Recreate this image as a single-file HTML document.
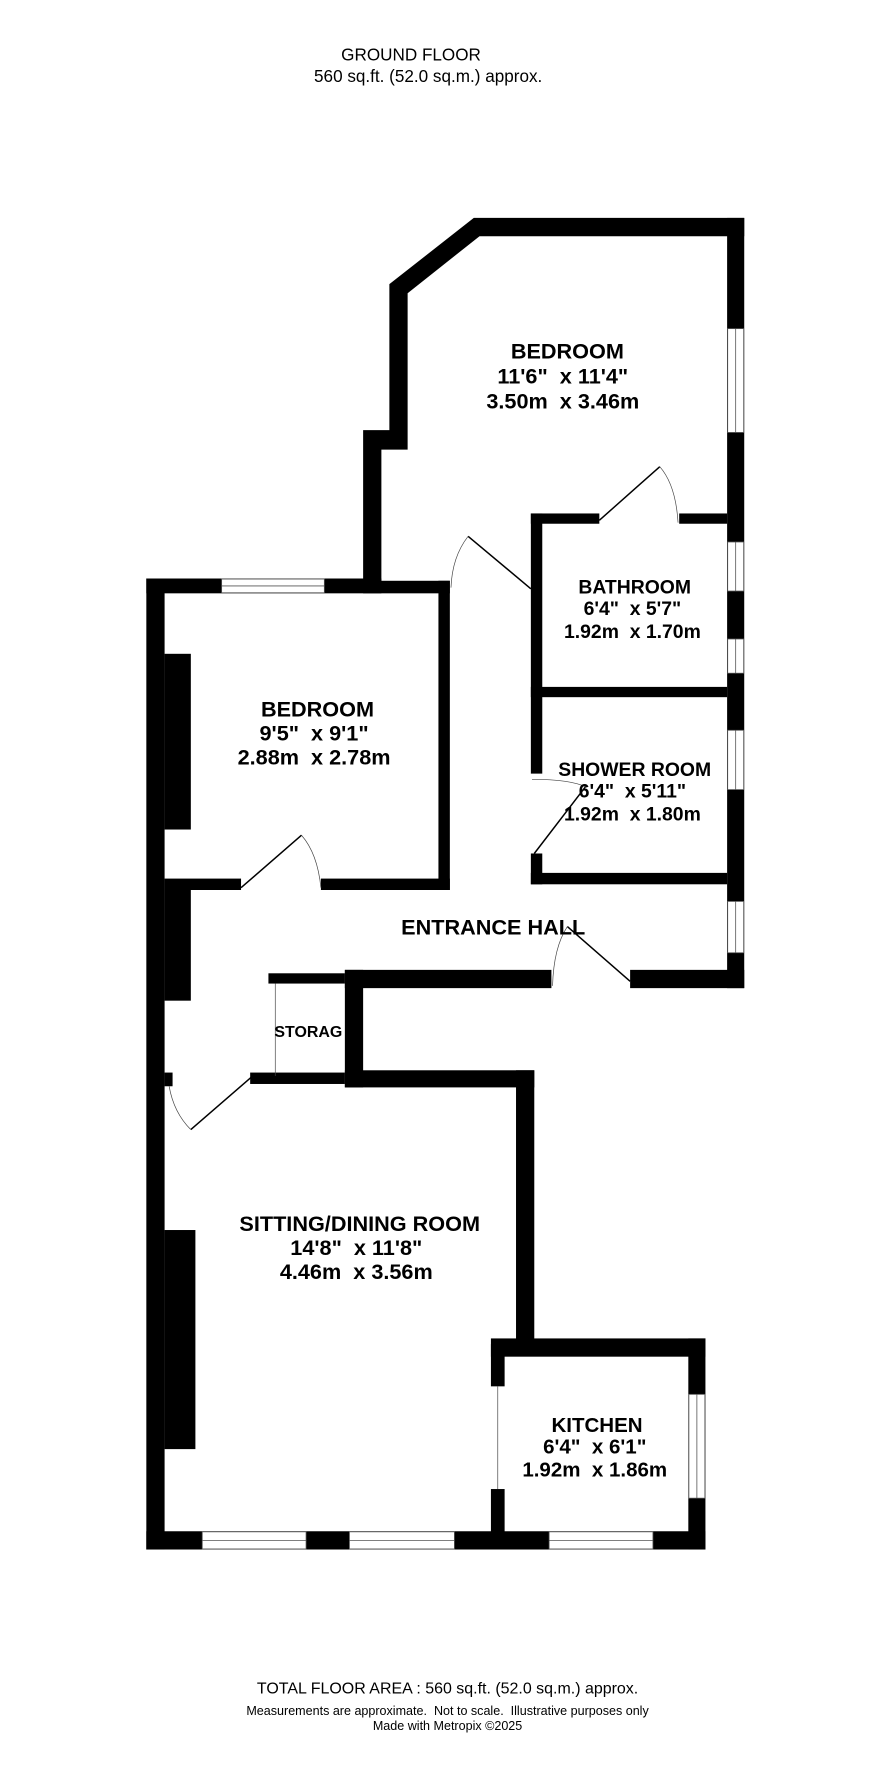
<!DOCTYPE html>
<html><head><meta charset="utf-8"><style>
html,body{margin:0;padding:0;background:#fff;}
svg{display:block;}
text{font-family:"Liberation Sans",Arial,sans-serif;fill:#000;white-space:pre;}
.b{font-weight:bold;}
</style></head><body>
<svg width="886" height="1780" viewBox="0 0 776 1560" xmlns="http://www.w3.org/2000/svg" xml:space="preserve">
<rect width="776" height="1560" fill="#fff"/>
<text x="360" y="53" font-size="15" text-anchor="middle">GROUND FLOOR</text>
<text x="375" y="72" font-size="15" text-anchor="middle">560 sq.ft. (52.0 sq.m.) approx.</text>

<g fill="#000">
<polygon points="415,191 652,191 652,207 420,207 357,257 357,394 334,394 334,515 318,515 318,377 341,377 341,249"/>
<rect x="637" y="191" width="15" height="675"/>
<rect x="465" y="450" width="60" height="9"/>
<rect x="595" y="450" width="42" height="9"/>
<rect x="465" y="450" width="10" height="228"/>
<rect x="465" y="748" width="10" height="27"/>
<rect x="465" y="602" width="172" height="9"/>
<rect x="465" y="765" width="172" height="10"/>
<rect x="128" y="507" width="206" height="13"/>
<rect x="318" y="509" width="76" height="11"/>
<rect x="384" y="509" width="10" height="271"/>
<rect x="144" y="770" width="67" height="10"/>
<rect x="281" y="770" width="113" height="10"/>
<rect x="128" y="507" width="16" height="851"/>
<rect x="144" y="573" width="23" height="154"/>
<rect x="144" y="780" width="23" height="97"/>
<rect x="144" y="940" width="7" height="12"/>
<rect x="302" y="850" width="181" height="16"/>
<rect x="552" y="850" width="100" height="16"/>
<rect x="235" y="853" width="67" height="9"/>
<rect x="302" y="850" width="16" height="103"/>
<rect x="219" y="940" width="83" height="10"/>
<rect x="302" y="938" width="166" height="15"/>
<rect x="452" y="938" width="16" height="242"/>
<rect x="430" y="1173" width="188" height="16"/>
<rect x="603" y="1173" width="15" height="185"/>
<rect x="430" y="1178" width="12" height="37"/>
<rect x="430" y="1305" width="12" height="45"/>
<rect x="128" y="1342" width="490" height="16"/>
<rect x="144" y="1078" width="27" height="192"/>
</g>

<g fill="#fff" stroke="#555" stroke-width="0.7">
<rect x="637.5" y="288" width="14" height="91"/><line x1="644.5" y1="288" x2="644.5" y2="379"/>
<rect x="637.5" y="475" width="14" height="43"/><line x1="644.5" y1="475" x2="644.5" y2="518"/>
<rect x="637.5" y="560" width="14" height="30"/><line x1="644.5" y1="560" x2="644.5" y2="590"/>
<rect x="637.5" y="640" width="14" height="52"/><line x1="644.5" y1="640" x2="644.5" y2="692"/>
<rect x="637.5" y="790" width="14" height="45"/><line x1="644.5" y1="790" x2="644.5" y2="835"/>
<rect x="603.5" y="1222" width="14" height="91"/><line x1="610.5" y1="1222" x2="610.5" y2="1313"/>
<rect x="194" y="507.5" width="90" height="12"/><line x1="194" y1="513.5" x2="284" y2="513.5"/>
<rect x="177" y="1342.5" width="91" height="15"/><line x1="177" y1="1350" x2="268" y2="1350"/>
<rect x="306" y="1342.5" width="92" height="15"/><line x1="306" y1="1350" x2="398" y2="1350"/>
<rect x="481" y="1342.5" width="91" height="15"/><line x1="481" y1="1350" x2="572" y2="1350"/>
</g>

<g stroke="#000" stroke-width="1.3" fill="none">
<line x1="525" y1="456" x2="578" y2="409"/>
<line x1="410" y1="470" x2="465" y2="516"/>
<line x1="211" y1="778" x2="264" y2="732"/>
<line x1="468" y1="748" x2="514" y2="688"/>
<line x1="497" y1="812" x2="552" y2="860"/>
<line x1="167" y1="990" x2="220" y2="944"/>
</g>
<g stroke="#444" stroke-width="0.6" fill="none">
<path d="M578,409 Q592,425 594,458"/>
<path d="M410,470 Q396,488 395,515"/>
<path d="M264,732 Q278,748 281,778"/>
<path d="M466,683 Q500,683 514,690"/>
<path d="M497,812 Q485,830 484,864"/>
<path d="M148,952 Q152,975 167,990"/>
<line x1="241" y1="862" x2="241" y2="943"/>
<line x1="436" y1="1215" x2="436" y2="1305"/>
</g>

<g class="b" text-anchor="middle" font-weight="bold">
<text x="497" y="314" font-size="19">BEDROOM</text>
<text x="493" y="336" font-size="19">11'6"  x 11'4"</text>
<text x="493" y="358" font-size="19">3.50m  x 3.46m</text>
<text x="278" y="628" font-size="19">BEDROOM</text>
<text x="275" y="649" font-size="19">9'5"  x 9'1"</text>
<text x="275" y="670" font-size="19">2.88m  x 2.78m</text>
<text x="556" y="520" font-size="17">BATHROOM</text>
<text x="554" y="539" font-size="17">6'4"  x 5'7"</text>
<text x="554" y="559" font-size="17">1.92m  x 1.70m</text>
<text x="556" y="680" font-size="17">SHOWER ROOM</text>
<text x="554" y="699" font-size="17">6'4"  x 5'11"</text>
<text x="554" y="719" font-size="17">1.92m  x 1.80m</text>
<text x="432" y="819" font-size="19">ENTRANCE HALL</text>
<text x="270" y="909" font-size="14">STORAG</text>
<text x="315" y="1079" font-size="19">SITTING/DINING ROOM</text>
<text x="312" y="1100" font-size="19">14'8"  x 11'8"</text>
<text x="312" y="1121" font-size="19">4.46m  x 3.56m</text>
<text x="523" y="1255" font-size="18">KITCHEN</text>
<text x="521" y="1274" font-size="18">6'4"  x 6'1"</text>
<text x="521" y="1294" font-size="18">1.92m  x 1.86m</text>
</g>

<text x="392" y="1484" font-size="14" text-anchor="middle">TOTAL FLOOR AREA : 560 sq.ft. (52.0 sq.m.) approx.</text>
<text x="392" y="1503" font-size="11" text-anchor="middle">Measurements are approximate.  Not to scale.  Illustrative purposes only</text>
<text x="392" y="1516" font-size="11" text-anchor="middle">Made with Metropix ©2025</text>
</svg>
</body></html>
